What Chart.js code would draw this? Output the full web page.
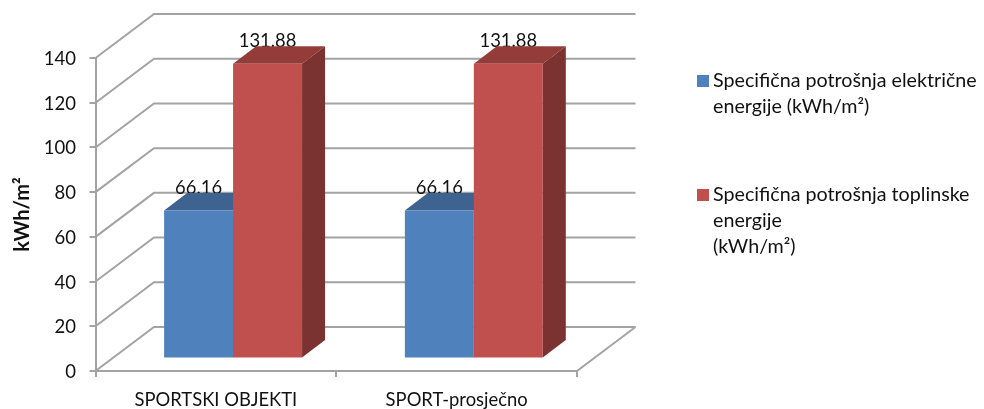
<!DOCTYPE html>
<html>
<head>
<meta charset="utf-8">
<script src="https://cdn.jsdelivr.net/npm/chart.js@4"></script>
<style>
  html, body { margin: 0; padding: 0; background: #fff; }
  canvas { display: block; }
</style>
</head>
<body>
<canvas id="barChart" width="984" height="409"></canvas>
<script>
var categories = ["SPORTSKI OBJEKTI", "SPORT-prosječno"];
var electricValues = [66.16, 66.16];
var thermalValues = [131.88, 131.88];
var electricLabel = ["Specifična potrošnja električne", "energije (kWh/m²)"];
var thermalLabel = ["Specifična potrošnja toplinske", "energije", "(kWh/m²)"];
var axisTitle = "kWh/m²";

var fontName = "Lato, 'Open Sans', sans-serif";
var gridColor = "#a3a3a3";

// how far the back wall and the bars sit behind the axes
var wallDx = 58.5, wallDy = 44;
var barPlaneDx = 17.2, barPlaneDy = 12.5;
var barDx = 23, barDy = 17.5;

var depthPlugin = {
    id: "depth3d",
    beforeDatasetsDraw: function (chart) {
        var ctx = chart.ctx;
        var x = chart.scales.x, y = chart.scales.y;
        var i;

        // slanted lines and back wall
        ctx.save();
        ctx.strokeStyle = gridColor;
        ctx.lineWidth = 2;
        y.ticks.forEach(function (t) {
            var py = y.getPixelForValue(t.value);
            ctx.beginPath();
            ctx.moveTo(x.left, py);
            ctx.lineTo(x.left + wallDx, py - wallDy);
            ctx.lineTo(x.right + wallDx, py - wallDy);
            ctx.stroke();
        });
        var floorY = y.getPixelForValue(0);
        ctx.beginPath();
        ctx.moveTo(x.right, floorY);
        ctx.lineTo(x.right + wallDx, floorY - wallDy);
        ctx.stroke();
        ctx.restore();

        // value labels go under the bar tops
        ctx.save();
        ctx.fillStyle = "#111";
        ctx.font = "18.4px " + fontName;
        ctx.textAlign = "center";
        ctx.textBaseline = "alphabetic";
        chart.data.datasets.forEach(function (ds, d) {
            chart.getDatasetMeta(d).data.forEach(function (bar, n) {
                ctx.fillText(ds.data[n].toFixed(2), bar.x + barPlaneDx, bar.y - barPlaneDy - barDy + 1);
            });
        });
        ctx.restore();

        // bars are moved back onto their own plane
        ctx.save();
        ctx.translate(barPlaneDx, -barPlaneDy);
        chart.data.datasets.forEach(function (ds, d) {
            var meta = chart.getDatasetMeta(d);
            for (i = 0; i < meta.data.length; i++) {
                var bar = meta.data[i];
                var l = bar.x - bar.width / 2, r = bar.x + bar.width / 2;
                ctx.fillStyle = ds.topColor;
                ctx.beginPath();
                ctx.moveTo(l, bar.y);
                ctx.lineTo(l + barDx, bar.y - barDy);
                ctx.lineTo(r + barDx, bar.y - barDy);
                ctx.lineTo(r, bar.y);
                ctx.closePath();
                ctx.fill();
                ctx.fillStyle = ds.sideColor;
                ctx.beginPath();
                ctx.moveTo(r, bar.y);
                ctx.lineTo(r + barDx, bar.y - barDy);
                ctx.lineTo(r + barDx, bar.base - barDy);
                ctx.lineTo(r, bar.base);
                ctx.closePath();
                ctx.fill();
            }
        });
    },
    afterDatasetsDraw: function (chart) {
        chart.ctx.restore();
    }
};

// legend with wrapped lines
var sideLegend = {
    id: "sideLegend",
    afterDraw: function (chart) {
        var ctx = chart.ctx;
        var entries = [[electricLabel, 75], [thermalLabel, 189]];
        ctx.save();
        ctx.font = "19.7px " + fontName;
        ctx.textBaseline = "middle";
        entries.forEach(function (e, d) {
            ctx.fillStyle = chart.data.datasets[d].backgroundColor;
            ctx.fillRect(697, e[1], 12, 12);
            ctx.fillStyle = "#111";
            e[0].forEach(function (line, n) {
                ctx.fillText(line, 713, e[1] + 6 + n * 26);
            });
        });
        ctx.restore();
    }
};

var chart = new Chart(document.getElementById("barChart"), {
    type: "bar",
    data: {
        labels: categories,
        datasets: [{
            label: electricLabel.join(" "),
            data: electricValues,
            backgroundColor: "#4f81bd",
            topColor: "#3e6390",
            sideColor: "#385d8a"
        }, {
            label: thermalLabel.join(" "),
            data: thermalValues,
            backgroundColor: "#c0504d",
            topColor: "#943c3a",
            sideColor: "#7b3331"
        }]
    },
    options: {
        responsive: false,
        animation: false,
        categoryPercentage: 0.573,
        barPercentage: 1,
        layout: { padding: { top: 58, right: 407, left: 0, bottom: 0 } },
        plugins: { legend: { display: false }, tooltip: { enabled: false } },
        scales: {
            x: {
                afterFit: function (scale) { scale.height = 38; },
                grid: { drawOnChartArea: false, color: gridColor, tickLength: 6, lineWidth: 2 },
                border: { color: gridColor, width: 2 },
                ticks: { color: "#111", padding: 12, maxRotation: 0, font: { family: fontName, size: 18.4 } }
            },
            y: {
                min: 0,
                max: 140,
                afterFit: function (scale) { scale.width = 95.5; },
                grid: { drawOnChartArea: false, color: gridColor, tickLength: 6, lineWidth: 2 },
                border: { color: gridColor, width: 2 },
                ticks: { stepSize: 20, color: "#111", padding: 13.5, labelOffset: 1, font: { family: fontName, size: 18.5 } },
                title: {
                    display: true,
                    text: axisTitle,
                    color: "#111",
                    padding: { top: 11, bottom: 0 },
                    font: { family: fontName, size: 20, weight: "bold" }
                }
            }
        }
    },
    plugins: [depthPlugin, sideLegend]
});
</script>
</body>
</html>
